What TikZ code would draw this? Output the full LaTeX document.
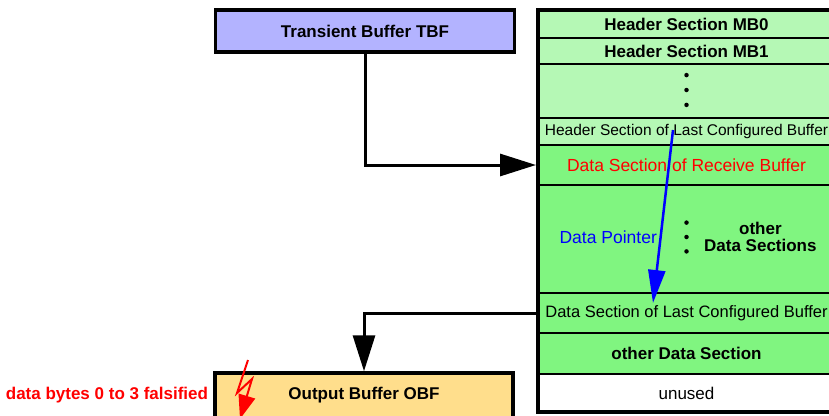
\documentclass[tikz,border=0pt]{standalone}
\usepackage{fontspec}
\setmainfont{Liberation Sans}
\usepackage{tikz}
\usetikzlibrary{
arrows.meta,
positioning
}
\definecolor{tbfblue}{HTML}{B3B3FF}
\definecolor{hdrgreen}{HTML}{B5F8B5}
\definecolor{datgreen}{HTML}{80F580}
\definecolor{obfyellow}{HTML}{FFDE8C}
\newcommand{\txt}[1]{\fontsize{#1}{17}\selectfont}

\begin{document}
\begin{tikzpicture}[x=1pt,y=-1pt,
    row/.style={draw,line width=1.5pt,minimum width=297pt,inner sep=0pt,outer sep=0pt,anchor=north west,font=\txt{17}},
    hdr/.style={row,fill=hdrgreen},
    dat/.style={row,fill=datgreen},
    buf/.style={draw,line width=3.5pt,minimum width=299pt,font=\bfseries\txt{17}},
    flow/.style={line width=3pt,-{Triangle[length=36pt,width=22pt]}},
    ptr/.style={blue,line width=2.5pt,-{Triangle[length=33pt,width=17pt]}},
    dot/.style={circle,fill,inner sep=0pt,minimum size=4.5pt}]
      \useasboundingbox (0,0) rectangle (829,415);
      % buffers on the left
      \node[buf,fill=tbfblue,minimum height=42pt] (tbf) at (365,31) {Transient Buffer TBF};
      \node[buf,fill=obfyellow,minimum height=45pt,minimum width=298pt] (obf) at (364,395.5) {Output Buffer OBF};
      \node[red,font=\bfseries\txt{17},inner sep=0pt,left=5pt of obf] (falsified) {data bytes 0 to 3 falsified};
      % message RAM
      \node[hdr,minimum height=28pt,font=\bfseries\txt{17}] (mb0) at (538,10) {Header Section MB0};
      \node[hdr,minimum height=26pt,font=\bfseries\txt{17}] (mb1) at (mb0.south west) {Header Section MB1};
      \node[hdr,minimum height=54pt] (hdots) at (mb1.south west) {};
      \node[hdr,minimum height=27pt,font=\txt{15.5}] (hlast) at (hdots.south west) {Header Section of Last Configured Buffer};
      \node[dat,minimum height=40pt,font=\txt{17.5},text=red] (drecv) at (hlast.south west) {Data Section of Receive Buffer};
      \node[dat,minimum height=108pt] (dother) at (drecv.south west) {};
      \node[dat,minimum height=40pt,font=\txt{16.5}] (dlast) at (dother.south west) {Data Section of Last Configured Buffer};
      \node[dat,minimum height=41pt,font=\bfseries\txt{17}] (dsec) at (dlast.south west) {other Data Section};
      \node[row,fill=white,minimum height=38pt] (unused) at (dsec.south west) {unused};
      \draw[line width=4pt] (mb0.north west) rectangle (unused.south east);
      % dots
      \node[dot] (h2) at ([yshift=1pt]hdots.center) {};
      \node[dot,above=10pt of h2] (h1) {};
      \node[dot,below=10pt of h2] (h3) {};
      \node[dot] (p2) at ([yshift=2pt]dother.center) {};
      \node[dot,above=9.5pt of p2] (p1) {};
      \node[dot,below=9.5pt of p2] (p3) {};
      \node[blue,font=\txt{17.5},inner sep=0pt,left=27pt of p2] (dptr) {Data Pointer};
      \node[align=center,font=\bfseries\txt{17},inner sep=0pt,right=15pt of p2] (othersec) {other\\Data Sections};
      % transfers
      \draw[flow,shorten >=2pt] (tbf.south) |- (drecv.west);
      \draw[flow] (dlast.west) -| (obf.north);
      \coordinate (ptrfrom) at (673,130);
      \coordinate (ptrto) at (653,303);
      \draw[ptr] (ptrfrom) -- (ptrto);
      % flash
      \draw[red,line width=2pt,-{Triangle[length=24pt,width=17pt]}]
         (248,360) -- (237,393) -- (252,379) -- (240,419);
\end{tikzpicture}
\end{document}
